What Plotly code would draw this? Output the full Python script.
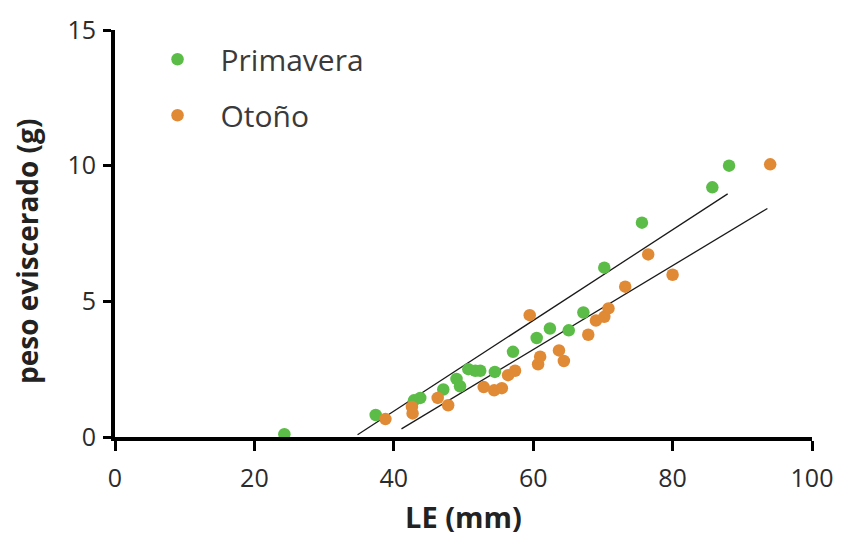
import plotly.graph_objects as go

# Primavera (spring) data
prim_le = [24.3, 37.4, 42.9, 43.8, 47.1, 49.0, 49.5, 50.7, 51.7, 52.4, 54.5,
           57.1, 60.5, 62.4, 65.1, 67.2, 70.2, 75.6, 85.7, 88.1]
prim_peso = [0.10, 0.81, 1.35, 1.44, 1.75, 2.14, 1.87, 2.50, 2.44, 2.44, 2.40,
             3.14, 3.65, 4.00, 3.93, 4.59, 6.24, 7.90, 9.20, 10.00]

# Otoño (autumn) data
oto_le = [38.8, 42.6, 42.7, 46.3, 47.8, 52.9, 54.4, 55.5, 56.4, 57.4, 59.5,
          60.7, 61.0, 63.7, 64.4, 67.9, 69.0, 70.2, 70.8, 73.2, 76.5, 80.0, 94.0]
oto_peso = [0.66, 1.11, 0.87, 1.44, 1.17, 1.84, 1.72, 1.80, 2.28, 2.44, 4.49,
            2.68, 2.96, 3.19, 2.80, 3.77, 4.29, 4.43, 4.74, 5.54, 6.73, 5.98, 10.05]

# Fitted regression lines (endpoints)
prim_fit_le = [34.8, 87.9]
prim_fit_peso = [0.08, 8.96]
oto_fit_le = [41.1, 93.6]
oto_fit_peso = [0.30, 8.42]

x_ticks = [0, 20, 40, 60, 80, 100]
y_ticks = [0, 5, 10, 15]

GREEN = "#5bbd47"
ORANGE = "#e08a36"
TEXT = "#2b2b2b"
FONT = "Open Sans"

fig = go.Figure()

fig.add_trace(go.Scatter(x=prim_fit_le, y=prim_fit_peso, mode="lines",
                         line=dict(color="#1a1a1a", width=1.3),
                         showlegend=False, hoverinfo="skip"))
fig.add_trace(go.Scatter(x=oto_fit_le, y=oto_fit_peso, mode="lines",
                         line=dict(color="#1a1a1a", width=1.3),
                         showlegend=False, hoverinfo="skip"))

fig.add_trace(go.Scatter(x=prim_le, y=prim_peso, mode="markers", name="Primavera",
                         legendgroup="p", cliponaxis=False,
                         marker=dict(color=GREEN, size=12.5, line=dict(width=0))))
fig.add_trace(go.Scatter(x=oto_le, y=oto_peso, mode="markers", name="Otoño",
                         legendgroup="o", cliponaxis=False,
                         marker=dict(color=ORANGE, size=12.5, line=dict(width=0))))

fig.update_layout(
    width=845, height=542,
    margin=dict(l=115, r=30, t=27, b=104),
    plot_bgcolor="white", paper_bgcolor="white",
    font=dict(family=FONT, color=TEXT, size=25),
    legend=dict(x=0.028, y=0.992, xanchor="left", yanchor="top",
                font=dict(family=FONT, size=30, color="#3a3a3a"),
                itemwidth=76, tracegroupgap=14, bgcolor="rgba(0,0,0,0)"),
    xaxis=dict(range=[0, 100], tickvals=x_ticks, showgrid=False, zeroline=False,
               showline=True, linecolor="black", linewidth=4,
               ticks="outside", ticklen=10, tickwidth=3, tickcolor="black",
               ticklabelstandoff=6,
               tickfont=dict(family=FONT, size=25, color=TEXT),
               title=dict(text="<b>LE (mm)</b>", standoff=16,
                          font=dict(family=FONT, size=29, color="#222"))),
    yaxis=dict(range=[0, 15], tickvals=y_ticks, showgrid=False, zeroline=False,
               showline=True, linecolor="black", linewidth=4,
               ticks="outside", ticklen=8, tickwidth=3, tickcolor="black",
               ticklabelstandoff=2,
               tickfont=dict(family=FONT, size=25, color=TEXT)),
    annotations=[dict(text="<b>peso eviscerado (g)</b>", textangle=-90,
                      xref="paper", yref="paper", x=-0.126, y=0.455,
                      xanchor="center", yanchor="middle", showarrow=False,
                      font=dict(family=FONT, size=28, color="#222"))],
)

fig.write_html("out.html")
